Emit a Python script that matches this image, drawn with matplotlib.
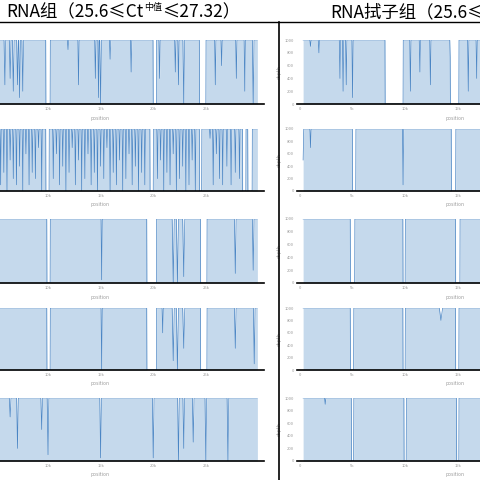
import numpy as np
import matplotlib
matplotlib.use("Agg")
import matplotlib.pyplot as plt
from matplotlib.ticker import FuncFormatter

plt.rcParams['font.family'] = ['Noto Sans CJK SC', 'DejaVu Sans']

left_title_a = "RNA组（25.6≤Ct"
left_title_sup = "中值"
left_title_b = "≤27.32）"
right_title = "RNA拭子组（25.6≤Ct中值≤27.32）"
xlabel = "position"
ylabel = "depth"
max_depth = 1000
genome_end = 29900  # bp
left_ticks = [10000, 15000, 20000, 25000]
right_ticks = [0, 5000, 10000, 15000]
right_yticks = [0, 200, 400, 600, 800, 1000]

# dips: (position kb, min depth fraction, half width kb); gaps: (start kb, end kb) with zero depth
left_dips = [
    [(5.9,.3,.08),(6.4,.4,.08),(6.7,.2,.08),(7.1,.3,.08),(7.3,.1,.08),(7.6,.2,.08),(11.9,.85,.06),(12.9,.3,.06),
     (14.5,.4,.06),(14.8,.1,.06),(15.0,0,.08),(15.9,.7,.06),(17.9,.5,.06),(20.6,.4,.06),(22.1,.5,.06),(22.4,.3,.06),
     (22.9,0,.08),(25.9,.3,.06),(26.5,.6,.06),(27.9,.4,.06),(28.7,.2,.06),(29.5,0,.08)],
    [(5.5,.1,.05),(5.8,.3,.05),(6.1,0,.05),(6.4,.5,.05),(6.7,.2,.05),(7.0,.1,.05),(7.3,.4,.05),(7.6,0,.05),(7.9,.6,.05),
     (8.2,.1,.05),(8.5,.3,.05),(8.8,.2,.05),(9.1,.7,.05),(9.4,0,.05),(10.5,.2,.05),(10.8,.6,.05),(11.1,.1,.05),
     (11.4,.4,.05),(11.7,0,.05),(12.0,.3,.05),(12.3,.7,.05),(12.6,.1,.05),(12.9,.5,.05),(13.2,0,.05),(13.5,.2,.05),
     (13.8,.6,.05),(14.1,.1,.05),(14.4,.3,.05),(14.7,0,.05),(15.0,.4,.05),(15.3,.2,.05),(15.6,.7,.05),(15.9,0,.05),
     (16.2,.3,.05),(16.5,.1,.05),(16.8,.5,.05),(17.1,0,.05),(17.4,.2,.05),(17.7,.6,.05),(18.0,.1,.05),(18.3,.4,.05),
     (18.6,0,.05),(18.9,.3,.05),(19.2,.1,.05),(20.4,.2,.05),(20.7,.5,.05),(21.0,0,.05),(21.3,.3,.05),(21.6,.1,.05),
     (21.9,.6,.05),(22.2,0,.05),(22.5,.2,.05),(22.8,.4,.05),(23.1,0,.05),(23.4,.1,.05),(23.7,.5,.05),(24.0,0,.05),
     (25.4,.85,.05),(25.7,.1,.05),(26.0,.6,.05),(26.3,.2,.05),(26.6,.1,.05),(27.0,.4,.05),(27.4,.1,.05),(27.8,.3,.05),
     (28.2,.2,.05)],
    [(15.1,.05,.06),(21.9,0,.1),(22.3,0,.1),(22.9,.1,.1),(27.8,.15,.08),(29.5,.2,.08)],
    [(15.1,.0,.06),(19.9,.5,.06),(20.9,.6,.06),(21.9,.15,.1),(22.3,0,.1),(22.9,.35,.1),(27.8,.35,.08),(29.6,.1,.08)],
    [(6.4,.7,.08),(7.1,.2,.08),(9.4,.5,.08),(10.0,.1,.08),(15.0,.05,.08),(20.0,.05,.08),(22.4,0,.08),
     (22.9,.2,.08),(23.8,.3,.08),(25.0,0,.08),(27.1,0,.08)],
]
left_gaps = [
    [(9.8,10.2),(20.0,20.3),(24.4,25.0)],
    [(9.8,10.1),(19.7,20.0),(24.4,24.6),(28.5,28.8),(29.0,29.4)],
    [(9.9,10.2),(19.4,20.3),(24.5,25.1)],
    [(9.9,10.2),(19.4,20.3),(24.5,25.1)],
    [],
]
right_dips = [
    [(1.0,.9,.06),(1.8,.8,.06),(3.8,.4,.06),(4.1,.2,.06),(4.4,.3,.06),(5.0,.1,.06),(10.5,.2,.06),(11.4,.5,.06),
     (12.4,.3,.06),(14.3,.6,.06),(16.0,.2,.06),(16.8,.4,.06)],
    [(0.3,.5,.05),(1.0,.7,.05),(9.8,.1,.05)],
    [],
    [(4.9,.1,.05),(13.4,.8,.15)],
    [(2.4,.9,.06)],
]
right_gaps = [
    [(8.1,9.8),(14.3,15.1)],
    [(5.0,5.3),(14.4,14.8)],
    [(4.8,5.2),(9.8,10.0),(14.8,15.2)],
    [(4.8,5.1),(9.8,10.0),(14.8,15.1)],
    [(4.9,5.1),(9.9,10.1),(14.9,15.1)],
]

def coverage(dips, gaps, start):
    x = np.arange(start, genome_end + 1, 20.0)
    y = np.full_like(x, float(max_depth))
    for p, f, w in dips:
        pb, wb = p * 1000, w * 1000
        v = f * max_depth + (1 - f) * max_depth * np.abs(x - pb) / wb
        y = np.minimum(y, np.where(np.abs(x - pb) < wb, v, max_depth))
    for a, b in gaps:
        y[(x >= a * 1000) & (x <= b * 1000)] = 0
    return x, y

fig = plt.figure(figsize=(4.8, 4.8), dpi=100)
W = H = 480.0
rows = [(40, 104), (129, 191), (219, 283), (308, 370), (398, 461)]
fmt = FuncFormatter(lambda v, p: "0" if v == 0 else f"{int(v/1000)}k")
fill_c, line_c = "#c5d9ec", "#4a85c4"

for i, (yt, yb) in enumerate(rows):
    for side in range(2):
        if side == 0:
            lpx, wpx, xl = -57.2, 320.9, (0, 30500)
            x, y = coverage(left_dips[i], left_gaps[i], 4500)
        else:
            lpx, wpx, xl = 296.8, 324.0, (-300, 30500)
            x, y = coverage(right_dips[i], right_gaps[i], 300)
        ax = fig.add_axes([lpx / W, 1 - yb / H, wpx / W, (yb - yt) / H])
        ax.fill_between(x, 0, y, color=fill_c, lw=0)
        ax.plot(x, y, color=line_c, lw=0.5)
        ax.set_xlim(*xl)
        ax.set_ylim(0, 1000)
        for s in ("top", "right", "left"):
            ax.spines[s].set_visible(False)
        ax.spines["bottom"].set_color("black")
        ax.spines["bottom"].set_linewidth(1.2)
        ax.set_xticks(left_ticks if side == 0 else right_ticks)
        ax.xaxis.set_major_formatter(fmt)
        ax.tick_params(axis="x", labelsize=3, length=0, pad=2, colors="#999999")
        ax.set_xlabel(xlabel, fontsize=3.5, color="#999999")
        if side == 1:
            ax.xaxis.set_label_coords((455 - lpx) / wpx, -0.18)
            ax.set_yticks(right_yticks)
            ax.tick_params(axis="y", labelsize=3, length=0, pad=2, colors="#999999")
            ax.set_ylabel(ylabel, fontsize=3.5, color="#999999", labelpad=2)
        else:
            ax.xaxis.set_label_coords((100 - lpx) / wpx, -0.18)
            ax.set_yticks([])

# separator lines
fig.add_artist(plt.Line2D([279 / W, 279 / W], [0, 1 - 22 / H], color="black", lw=1.2))
fig.add_artist(plt.Line2D([0, 1], [1 - 22 / H, 1 - 22 / H], color="black", lw=1.0))

fig.text(143 / W, 1 - 12 / H, left_title_a, ha="right", va="center", fontsize=12.5)
fig.text(144 / W, 1 - 7 / H, left_title_sup, ha="left", va="center", fontsize=6.5)
fig.text(162 / W, 1 - 12 / H, left_title_b, ha="left", va="center", fontsize=12.5)
fig.text(330 / W, 1 - 12 / H, right_title, ha="left", va="center", fontsize=12.5)

fig.savefig("out.png", dpi=100, facecolor="white")
